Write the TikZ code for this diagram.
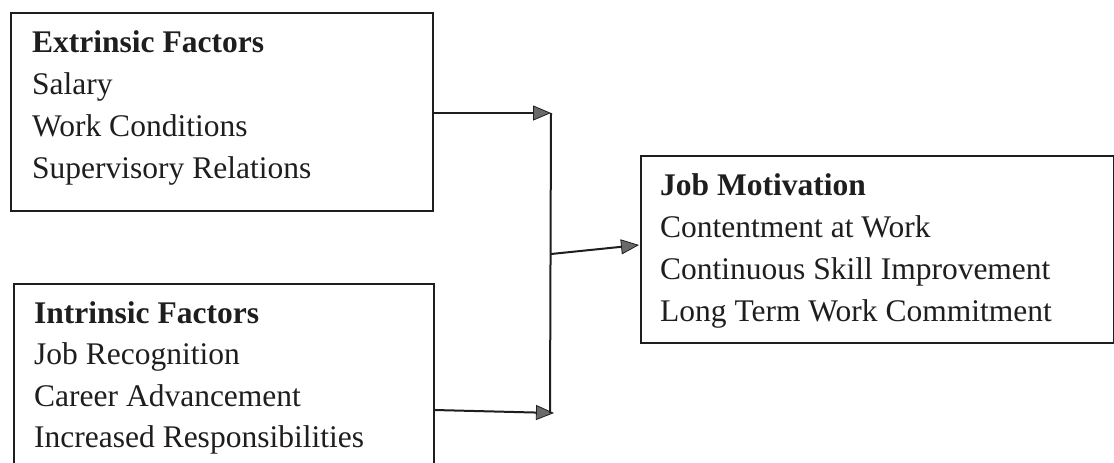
\documentclass[tikz,border=0pt]{standalone}
\usepackage{fontspec}
\setmainfont{Liberation Serif}
\usetikzlibrary{arrows.meta}
\definecolor{ink}{HTML}{1E1E1E}
\definecolor{headfill}{HTML}{6A6A6A}
\tikzset{
  box/.style={draw=ink, line width=1.5pt, rectangle, inner sep=0pt, anchor=north west},
  txt/.style={anchor=base west, inner sep=0pt, text=ink, font=\fontsize{31.5}{42}\selectfont},
  conn/.style={draw=ink, line width=2pt},
  arr/.style={conn, -{Triangle[length=18pt, width=15pt, fill=headfill, line width=0.8pt]}}
}
\begin{document}
\begin{tikzpicture}[x=1pt,y=-1pt]
\useasboundingbox[fill=white] (0,0) rectangle (1114,463);
% boxes
\node[box, minimum width=422pt, minimum height=198pt] (ext) at (10,12) {};
\node[box, minimum width=420pt, minimum height=185pt] (int) at (13,283) {};
\node[box, minimum width=473pt, minimum height=187pt] (mot) at (640,155) {};
% texts
\node[txt] (e0) at (32,52)  {\textbf{Extrinsic Factors}};
\node[txt] (e1) at (32,94)  {Salary};
\node[txt] (e2) at (32,136) {Work Conditions};
\node[txt] (e3) at (32,178) {Supervisory Relations};
\node[txt] (i0) at (34,323) {\textbf{Intrinsic Factors}};
\node[txt] (i1) at (34,364) {Job Recognition};
\node[txt] (i2) at (34,406) {Career Advancement};
\node[txt] (i3) at (34,447) {Increased Responsibilities};
\node[txt] (m0) at (660,195) {\textbf{Job Motivation}};
\node[txt] (m1) at (660,237) {Contentment at Work};
\node[txt] (m2) at (660,279) {Continuous Skill Improvement};
\node[txt] (m3) at (660,321) {Long Term Work Commitment};
% junction points
\coordinate (j1) at (551,113);
\coordinate (j2) at (554,413);
\coordinate (jb) at (550,413);
\coordinate (jm) at (551,254);
\coordinate (ms) at (639,245);
% connectors
\draw[arr] (ext.east |- j1) -- (j1);
\draw[arr] (int.east |- 0,410) -- (j2);
\draw[conn] (j1) -- (jb);
\draw[arr] (jm) -- (ms);
\end{tikzpicture}
\end{document}
